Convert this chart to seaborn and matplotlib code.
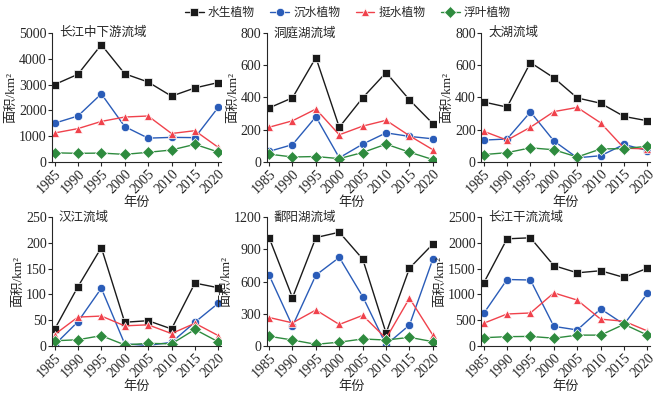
import pandas as pd
import matplotlib.pyplot as plt
import seaborn as sns
from matplotlib import font_manager as fm

years = [1985, 1990, 1995, 2000, 2005, 2010, 2015, 2020]
types = ['水生植物', '沉水植物', '挺水植物', '浮叶植物']
regions = ['长江中下游流域', '洞庭湖流域', '太湖流域', '汉江流域', '鄱阳湖流域', '长江干流流域']
y_max = [5000, 800, 800, 250, 1200, 2500]
y_step = [1000, 200, 200, 50, 300, 500]

# values, per region: aquatic, submerged, emergent, floating
cjz = [[3000, 3400, 4550, 3420, 3100, 2550, 2870, 3080],
       [1500, 1780, 2640, 1370, 920, 950, 940, 2120],
       [1120, 1290, 1570, 1740, 1780, 1100, 1210, 560],
       [350, 330, 340, 290, 370, 460, 680, 380]]
dth = [[335, 398, 648, 215, 398, 555, 385, 237],
       [65, 107, 280, 25, 110, 180, 158, 143],
       [215, 255, 328, 168, 222, 258, 162, 75],
       [48, 30, 33, 20, 58, 110, 60, 14]]
th = [[372, 340, 617, 522, 397, 364, 282, 255],
      [135, 142, 310, 130, 25, 38, 108, 70],
      [190, 135, 215, 312, 338, 242, 85, 80],
      [45, 57, 87, 75, 30, 80, 82, 97]]
hj = [[32, 115, 191, 46, 49, 33, 122, 113],
      [2, 47, 112, 4, 1, 7, 46, 83],
      [22, 56, 58, 39, 41, 24, 44, 20],
      [10, 12, 20, 2, 5, 4, 32, 8]]
pyh = [[1010, 450, 1010, 1060, 810, 120, 725, 950],
       [660, 185, 660, 825, 460, 10, 195, 810],
       [265, 215, 335, 200, 285, 70, 445, 100],
       [90, 55, 15, 35, 65, 55, 80, 40]]
cjgl = [[1220, 2080, 2100, 1560, 1420, 1460, 1330, 1510],
        [630, 1290, 1280, 380, 310, 720, 420, 1020],
        [440, 620, 640, 1030, 890, 520, 480, 290],
        [160, 180, 185, 150, 210, 210, 420, 210]]
all_data = [cjz, dth, th, hj, pyh, cjgl]

colors = ['#1a1a1a', '#2a5cb8', '#f0424c', '#2e8b3e']
markers = ['s', 'o', '^', 'D']

# serif CJK if there is one, otherwise the sans one
names = set(f.name for f in fm.fontManager.ttflist)
cjk = 'Noto Serif CJK SC' if 'Noto Serif CJK SC' in names else 'Noto Sans CJK SC'

sns.set_style('ticks')
plt.rcParams['font.family'] = ['Liberation Serif', cjk]
plt.rcParams['font.size'] = 9
plt.rcParams['axes.unicode_minus'] = False

rows = []
for reg, data in zip(regions, all_data):
    for t, vals in zip(types, data):
        for yr, v in zip(years, vals):
            rows.append({'region': reg, 'type': t, 'year': yr, 'area': v})
df = pd.DataFrame(rows)

fig, axes = plt.subplots(2, 3, figsize=(6.69, 3.94), dpi=100)
fig.subplots_adjust(left=0.078, right=0.972, top=0.916, bottom=0.122,
                    wspace=0.27, hspace=0.43)

for i, (ax, reg) in enumerate(zip(axes.flat, regions)):
    sub = df[df['region'] == reg]
    sns.lineplot(data=sub, x='year', y='area', hue='type', style='type',
                 hue_order=types, style_order=types, palette=colors,
                 markers=markers, dashes=False, markersize=6, linewidth=1,
                 markeredgewidth=0.5, ax=ax, legend=(i == 0))
    ax.set_xlim(1984.5, 2020.6)
    ax.set_ylim(0, y_max[i])
    ax.set_yticks(range(0, y_max[i] + 1, y_step[i]))
    ax.set_xticks(years)
    ax.tick_params(axis='x', labelrotation=45, length=3, pad=1, labelsize=10)
    ax.tick_params(axis='y', length=3, pad=1, labelsize=10)
    for lab in ax.get_xticklabels():
        lab.set_ha('right')
        lab.set_rotation_mode('anchor')
    ax.set_xlabel('年份', labelpad=0, fontsize=9.5)
    ax.set_ylabel('面积/km²', labelpad=1, fontsize=9.5)
    ax.text(0.04, 1.0, reg, transform=ax.transAxes, va='center', ha='left',
            fontsize=9)
    sns.despine(ax=ax)

handles, labels = axes[0, 0].get_legend_handles_labels()
axes[0, 0].get_legend().remove()
fig.legend(handles, labels, loc='upper center', ncol=4, frameon=False,
           bbox_to_anchor=(0.52, 1.01), fontsize=8.5, handlelength=1.6,
           columnspacing=1.3, handletextpad=0.35)

plt.savefig('out.png', dpi=100)
